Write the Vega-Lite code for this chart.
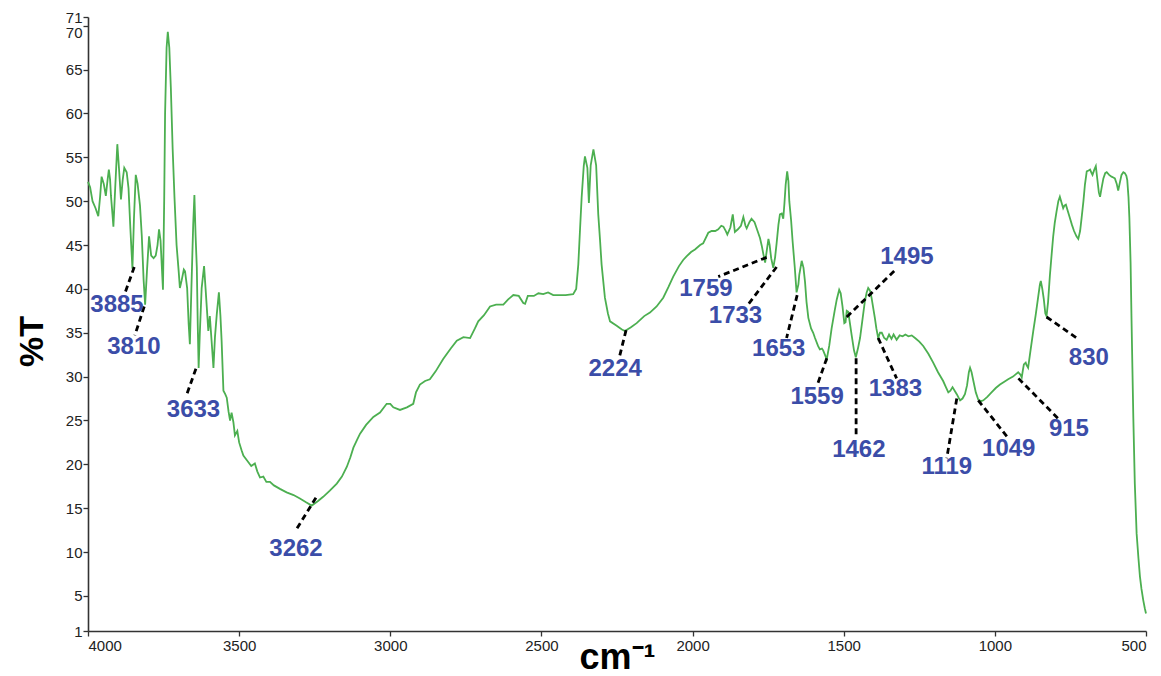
{
  "$schema": "https://vega.github.io/schema/vega-lite/v6.json",
  "autosize": "none",
  "width": 1058,
  "height": 614,
  "padding": {"left": 88, "top": 17, "right": 15, "bottom": 45},
  "background": "white",
  "config": {
    "view": {"stroke": null},
    "axis": {
      "grid": false,
      "domainColor": "#333333",
      "domainWidth": 1.6,
      "tickColor": "#333333",
      "tickWidth": 1.3,
      "tickSize": 5,
      "labelFont": "Liberation Sans",
      "labelFontSize": 15,
      "labelColor": "#222222",
      "titleFont": "Liberation Sans",
      "titleColor": "#000000",
      "titleFontWeight": "bold"
    }
  },
  "datasets": {
    "spectrum": [
      {"wn": 4000, "t": 52.2}, {"wn": 3993, "t": 51.6}, {"wn": 3985, "t": 50.0}, {"wn": 3975, "t": 49.2}, {"wn": 3966, "t": 48.3},
      {"wn": 3960, "t": 50.5}, {"wn": 3955, "t": 52.8}, {"wn": 3948, "t": 52.0}, {"wn": 3941, "t": 50.6}, {"wn": 3935, "t": 52.5},
      {"wn": 3931, "t": 53.6}, {"wn": 3927, "t": 52.5}, {"wn": 3924, "t": 50.6}, {"wn": 3919, "t": 48.5}, {"wn": 3916, "t": 47.1},
      {"wn": 3910, "t": 51.5}, {"wn": 3903, "t": 56.5}, {"wn": 3897, "t": 53.5}, {"wn": 3891, "t": 50.2}, {"wn": 3885, "t": 52.5},
      {"wn": 3880, "t": 53.8}, {"wn": 3872, "t": 53.3}, {"wn": 3866, "t": 51.5}, {"wn": 3860, "t": 47.0}, {"wn": 3853, "t": 42.3},
      {"wn": 3848, "t": 48.0}, {"wn": 3842, "t": 53.0}, {"wn": 3836, "t": 52.0}, {"wn": 3828, "t": 49.5}, {"wn": 3822, "t": 46.0},
      {"wn": 3816, "t": 41.0}, {"wn": 3811, "t": 38.2}, {"wn": 3805, "t": 42.0}, {"wn": 3798, "t": 46.0}, {"wn": 3791, "t": 43.8},
      {"wn": 3783, "t": 43.5}, {"wn": 3776, "t": 43.8}, {"wn": 3770, "t": 45.0}, {"wn": 3765, "t": 46.8}, {"wn": 3760, "t": 45.5},
      {"wn": 3755, "t": 42.0}, {"wn": 3752, "t": 39.9}, {"wn": 3748, "t": 50.0}, {"wn": 3745, "t": 60.0}, {"wn": 3740, "t": 67.5},
      {"wn": 3736, "t": 69.3}, {"wn": 3731, "t": 67.5}, {"wn": 3726, "t": 63.0}, {"wn": 3720, "t": 56.0}, {"wn": 3714, "t": 50.5},
      {"wn": 3707, "t": 45.0}, {"wn": 3700, "t": 42.0}, {"wn": 3696, "t": 40.1}, {"wn": 3690, "t": 41.0}, {"wn": 3683, "t": 42.2},
      {"wn": 3679, "t": 42.0}, {"wn": 3672, "t": 40.1}, {"wn": 3667, "t": 36.0}, {"wn": 3663, "t": 33.7}, {"wn": 3658, "t": 40.0},
      {"wn": 3652, "t": 47.3}, {"wn": 3648, "t": 50.7}, {"wn": 3644, "t": 46.0}, {"wn": 3640, "t": 42.4}, {"wn": 3637, "t": 36.0},
      {"wn": 3634, "t": 31.0}, {"wn": 3630, "t": 35.0}, {"wn": 3624, "t": 40.1}, {"wn": 3616, "t": 42.6}, {"wn": 3611, "t": 40.0},
      {"wn": 3607, "t": 37.9}, {"wn": 3602, "t": 35.2}, {"wn": 3597, "t": 36.9}, {"wn": 3591, "t": 34.0}, {"wn": 3585, "t": 31.0},
      {"wn": 3580, "t": 34.5}, {"wn": 3574, "t": 37.1}, {"wn": 3567, "t": 39.6}, {"wn": 3562, "t": 37.0}, {"wn": 3558, "t": 34.1},
      {"wn": 3552, "t": 28.4}, {"wn": 3546, "t": 28.0}, {"wn": 3541, "t": 27.6}, {"wn": 3535, "t": 26.0}, {"wn": 3530, "t": 25.0},
      {"wn": 3525, "t": 25.9}, {"wn": 3519, "t": 24.8}, {"wn": 3514, "t": 23.3}, {"wn": 3506, "t": 23.8}, {"wn": 3500, "t": 22.5},
      {"wn": 3492, "t": 21.6}, {"wn": 3486, "t": 21.0}, {"wn": 3475, "t": 20.5}, {"wn": 3460, "t": 19.8}, {"wn": 3448, "t": 20.1},
      {"wn": 3440, "t": 19.2}, {"wn": 3431, "t": 18.5}, {"wn": 3420, "t": 18.6}, {"wn": 3410, "t": 18.0}, {"wn": 3398, "t": 18.0},
      {"wn": 3385, "t": 17.6}, {"wn": 3365, "t": 17.2}, {"wn": 3343, "t": 16.8}, {"wn": 3320, "t": 16.5}, {"wn": 3299, "t": 16.1},
      {"wn": 3280, "t": 15.7}, {"wn": 3260, "t": 15.3}, {"wn": 3240, "t": 15.8}, {"wn": 3222, "t": 16.3}, {"wn": 3200, "t": 17.0},
      {"wn": 3177, "t": 17.8}, {"wn": 3160, "t": 18.6}, {"wn": 3144, "t": 19.7}, {"wn": 3132, "t": 20.8}, {"wn": 3122, "t": 21.9},
      {"wn": 3110, "t": 22.8}, {"wn": 3100, "t": 23.5}, {"wn": 3080, "t": 24.5}, {"wn": 3056, "t": 25.4}, {"wn": 3034, "t": 25.9},
      {"wn": 3012, "t": 26.9}, {"wn": 3000, "t": 26.9}, {"wn": 2990, "t": 26.5}, {"wn": 2968, "t": 26.2}, {"wn": 2945, "t": 26.5},
      {"wn": 2924, "t": 26.9}, {"wn": 2915, "t": 28.2}, {"wn": 2902, "t": 29.1}, {"wn": 2885, "t": 29.5}, {"wn": 2869, "t": 29.7},
      {"wn": 2850, "t": 30.6}, {"wn": 2825, "t": 32.0}, {"wn": 2800, "t": 33.2}, {"wn": 2780, "t": 34.1}, {"wn": 2758, "t": 34.5},
      {"wn": 2736, "t": 34.4}, {"wn": 2720, "t": 35.5}, {"wn": 2709, "t": 36.3}, {"wn": 2690, "t": 37.0}, {"wn": 2670, "t": 38.0},
      {"wn": 2650, "t": 38.2}, {"wn": 2626, "t": 38.2}, {"wn": 2610, "t": 38.8}, {"wn": 2593, "t": 39.3}, {"wn": 2575, "t": 39.2},
      {"wn": 2560, "t": 38.4}, {"wn": 2554, "t": 38.3}, {"wn": 2545, "t": 39.2}, {"wn": 2525, "t": 39.2}, {"wn": 2510, "t": 39.5},
      {"wn": 2494, "t": 39.4}, {"wn": 2478, "t": 39.6}, {"wn": 2461, "t": 39.3}, {"wn": 2440, "t": 39.3}, {"wn": 2420, "t": 39.3},
      {"wn": 2395, "t": 39.4}, {"wn": 2385, "t": 40.0}, {"wn": 2378, "t": 42.8}, {"wn": 2372, "t": 47.0}, {"wn": 2367, "t": 50.4},
      {"wn": 2360, "t": 54.0}, {"wn": 2356, "t": 55.1}, {"wn": 2348, "t": 53.8}, {"wn": 2343, "t": 49.8}, {"wn": 2337, "t": 54.1},
      {"wn": 2328, "t": 55.9}, {"wn": 2319, "t": 54.1}, {"wn": 2312, "t": 48.5}, {"wn": 2306, "t": 45.5}, {"wn": 2301, "t": 42.8},
      {"wn": 2290, "t": 39.0}, {"wn": 2280, "t": 37.2}, {"wn": 2273, "t": 36.3}, {"wn": 2251, "t": 35.8}, {"wn": 2235, "t": 35.4},
      {"wn": 2224, "t": 35.2}, {"wn": 2205, "t": 35.6}, {"wn": 2185, "t": 36.1}, {"wn": 2160, "t": 36.9}, {"wn": 2141, "t": 37.3},
      {"wn": 2119, "t": 38.0}, {"wn": 2097, "t": 39.0}, {"wn": 2080, "t": 40.2}, {"wn": 2064, "t": 41.4}, {"wn": 2045, "t": 42.6},
      {"wn": 2031, "t": 43.3}, {"wn": 2020, "t": 43.7}, {"wn": 2005, "t": 44.2}, {"wn": 1992, "t": 44.5}, {"wn": 1975, "t": 45.0},
      {"wn": 1965, "t": 45.2}, {"wn": 1948, "t": 46.4}, {"wn": 1937, "t": 46.6}, {"wn": 1925, "t": 46.6}, {"wn": 1915, "t": 46.8},
      {"wn": 1905, "t": 47.2}, {"wn": 1898, "t": 47.1}, {"wn": 1890, "t": 46.6}, {"wn": 1885, "t": 46.2}, {"wn": 1875, "t": 47.0},
      {"wn": 1867, "t": 48.5}, {"wn": 1860, "t": 46.5}, {"wn": 1850, "t": 46.8}, {"wn": 1840, "t": 47.2}, {"wn": 1832, "t": 48.2},
      {"wn": 1825, "t": 47.2}, {"wn": 1821, "t": 46.9}, {"wn": 1812, "t": 47.6}, {"wn": 1805, "t": 48.0}, {"wn": 1795, "t": 47.6},
      {"wn": 1785, "t": 46.6}, {"wn": 1777, "t": 45.8}, {"wn": 1771, "t": 44.9}, {"wn": 1766, "t": 44.0}, {"wn": 1760, "t": 43.0},
      {"wn": 1754, "t": 44.5}, {"wn": 1749, "t": 45.7}, {"wn": 1745, "t": 45.0}, {"wn": 1740, "t": 43.5}, {"wn": 1733, "t": 42.4},
      {"wn": 1727, "t": 43.6}, {"wn": 1722, "t": 45.2}, {"wn": 1716, "t": 47.3}, {"wn": 1711, "t": 48.5}, {"wn": 1705, "t": 48.6},
      {"wn": 1700, "t": 48.0}, {"wn": 1696, "t": 49.8}, {"wn": 1692, "t": 51.9}, {"wn": 1687, "t": 53.4}, {"wn": 1683, "t": 52.3},
      {"wn": 1680, "t": 50.0}, {"wn": 1674, "t": 47.8}, {"wn": 1669, "t": 45.4}, {"wn": 1662, "t": 42.5}, {"wn": 1656, "t": 39.6},
      {"wn": 1650, "t": 40.5}, {"wn": 1647, "t": 41.6}, {"wn": 1639, "t": 43.2}, {"wn": 1633, "t": 42.4}, {"wn": 1628, "t": 40.8},
      {"wn": 1623, "t": 38.5}, {"wn": 1617, "t": 36.7}, {"wn": 1608, "t": 35.5}, {"wn": 1601, "t": 35.0}, {"wn": 1595, "t": 34.4},
      {"wn": 1585, "t": 33.5}, {"wn": 1579, "t": 33.1}, {"wn": 1572, "t": 33.2}, {"wn": 1568, "t": 33.0}, {"wn": 1560, "t": 32.3},
      {"wn": 1556, "t": 32.0}, {"wn": 1548, "t": 33.5}, {"wn": 1540, "t": 35.5}, {"wn": 1530, "t": 37.5}, {"wn": 1523, "t": 38.8},
      {"wn": 1515, "t": 39.9}, {"wn": 1510, "t": 39.5}, {"wn": 1504, "t": 38.0}, {"wn": 1498, "t": 36.1}, {"wn": 1494, "t": 36.2},
      {"wn": 1490, "t": 37.5}, {"wn": 1485, "t": 37.4}, {"wn": 1480, "t": 36.2}, {"wn": 1474, "t": 34.8}, {"wn": 1466, "t": 33.0},
      {"wn": 1460, "t": 32.2}, {"wn": 1453, "t": 33.2}, {"wn": 1446, "t": 34.4}, {"wn": 1438, "t": 36.5}, {"wn": 1430, "t": 38.6},
      {"wn": 1424, "t": 39.6}, {"wn": 1419, "t": 40.1}, {"wn": 1413, "t": 39.8}, {"wn": 1408, "t": 39.0}, {"wn": 1397, "t": 36.7},
      {"wn": 1392, "t": 35.5}, {"wn": 1386, "t": 34.4}, {"wn": 1380, "t": 35.0}, {"wn": 1374, "t": 35.0}, {"wn": 1366, "t": 34.4},
      {"wn": 1358, "t": 34.2}, {"wn": 1350, "t": 34.8}, {"wn": 1342, "t": 34.3}, {"wn": 1335, "t": 34.8}, {"wn": 1325, "t": 34.2},
      {"wn": 1315, "t": 34.7}, {"wn": 1305, "t": 34.6}, {"wn": 1296, "t": 34.8}, {"wn": 1286, "t": 34.6}, {"wn": 1275, "t": 34.7},
      {"wn": 1264, "t": 34.4}, {"wn": 1250, "t": 34.0}, {"wn": 1237, "t": 33.5}, {"wn": 1220, "t": 32.6}, {"wn": 1204, "t": 31.6},
      {"wn": 1188, "t": 30.5}, {"wn": 1171, "t": 29.5}, {"wn": 1162, "t": 28.8}, {"wn": 1154, "t": 28.2}, {"wn": 1147, "t": 28.4},
      {"wn": 1140, "t": 28.8}, {"wn": 1133, "t": 28.4}, {"wn": 1126, "t": 28.0}, {"wn": 1120, "t": 27.6}, {"wn": 1115, "t": 27.3},
      {"wn": 1107, "t": 27.5}, {"wn": 1099, "t": 28.0}, {"wn": 1092, "t": 29.0}, {"wn": 1086, "t": 30.5}, {"wn": 1082, "t": 31.0},
      {"wn": 1077, "t": 30.5}, {"wn": 1071, "t": 29.5}, {"wn": 1063, "t": 28.2}, {"wn": 1055, "t": 27.4}, {"wn": 1046, "t": 27.2},
      {"wn": 1038, "t": 27.3}, {"wn": 1025, "t": 27.7}, {"wn": 1011, "t": 28.2}, {"wn": 997, "t": 28.7}, {"wn": 983, "t": 29.1},
      {"wn": 970, "t": 29.4}, {"wn": 956, "t": 29.7}, {"wn": 940, "t": 30.0}, {"wn": 923, "t": 30.5}, {"wn": 915, "t": 30.2},
      {"wn": 911, "t": 29.9}, {"wn": 907, "t": 30.8}, {"wn": 904, "t": 31.4}, {"wn": 898, "t": 31.6}, {"wn": 895, "t": 31.3},
      {"wn": 890, "t": 31.0}, {"wn": 882, "t": 33.0}, {"wn": 873, "t": 35.2}, {"wn": 865, "t": 37.0}, {"wn": 857, "t": 39.0},
      {"wn": 851, "t": 40.5}, {"wn": 848, "t": 40.9}, {"wn": 843, "t": 40.0}, {"wn": 838, "t": 38.8}, {"wn": 833, "t": 37.2},
      {"wn": 829, "t": 36.9}, {"wn": 824, "t": 38.5}, {"wn": 818, "t": 41.5}, {"wn": 812, "t": 44.0}, {"wn": 807, "t": 46.0},
      {"wn": 802, "t": 47.5}, {"wn": 796, "t": 48.8}, {"wn": 790, "t": 50.0}, {"wn": 785, "t": 50.5}, {"wn": 780, "t": 49.9},
      {"wn": 774, "t": 49.2}, {"wn": 770, "t": 49.5}, {"wn": 765, "t": 49.6}, {"wn": 758, "t": 48.8}, {"wn": 752, "t": 48.1},
      {"wn": 745, "t": 47.3}, {"wn": 738, "t": 46.6}, {"wn": 730, "t": 46.0}, {"wn": 724, "t": 45.7}, {"wn": 718, "t": 46.6},
      {"wn": 713, "t": 48.1}, {"wn": 707, "t": 50.0}, {"wn": 702, "t": 51.9}, {"wn": 696, "t": 53.4}, {"wn": 690, "t": 53.5},
      {"wn": 685, "t": 53.6}, {"wn": 680, "t": 53.2}, {"wn": 677, "t": 53.0}, {"wn": 671, "t": 53.6}, {"wn": 666, "t": 54.0},
      {"wn": 661, "t": 52.5}, {"wn": 656, "t": 51.0}, {"wn": 652, "t": 50.5}, {"wn": 647, "t": 51.5}, {"wn": 641, "t": 52.6},
      {"wn": 635, "t": 53.2}, {"wn": 630, "t": 53.3}, {"wn": 622, "t": 53.0}, {"wn": 614, "t": 52.8}, {"wn": 608, "t": 52.7},
      {"wn": 603, "t": 52.6}, {"wn": 597, "t": 52.0}, {"wn": 592, "t": 51.2}, {"wn": 586, "t": 52.2}, {"wn": 581, "t": 53.0},
      {"wn": 575, "t": 53.3}, {"wn": 570, "t": 53.2}, {"wn": 565, "t": 52.9}, {"wn": 562, "t": 52.4}, {"wn": 558, "t": 50.5},
      {"wn": 555, "t": 48.1}, {"wn": 551, "t": 43.0}, {"wn": 548, "t": 36.7}, {"wn": 545, "t": 31.0}, {"wn": 542, "t": 25.4},
      {"wn": 537, "t": 17.8}, {"wn": 531, "t": 12.1}, {"wn": 525, "t": 9.3}, {"wn": 520, "t": 7.2}, {"wn": 515, "t": 5.8},
      {"wn": 509, "t": 4.5}, {"wn": 504, "t": 3.6}, {"wn": 500, "t": 3.0}
    ],
    "leaders": [
      {"xa": 3847, "ya": 42.5, "xb": 3880, "yb": 39.3},
      {"xa": 3814, "ya": 38.0, "xb": 3845, "yb": 34.7},
      {"xa": 3643, "ya": 30.9, "xb": 3676, "yb": 27.7},
      {"xa": 3246, "ya": 16.2, "xb": 3312, "yb": 12.5},
      {"xa": 2220, "ya": 35.3, "xb": 2243, "yb": 32.1},
      {"xa": 1755, "ya": 43.6, "xb": 1915, "yb": 41.4},
      {"xa": 1722, "ya": 42.5, "xb": 1821, "yb": 38.0},
      {"xa": 1654, "ya": 39.3, "xb": 1689, "yb": 34.4},
      {"xa": 1556, "ya": 32.1, "xb": 1589, "yb": 28.9},
      {"xa": 1459, "ya": 32.1, "xb": 1459, "yb": 23.0},
      {"xa": 1490, "ya": 36.8, "xb": 1325, "yb": 42.3},
      {"xa": 1386, "ya": 34.4, "xb": 1325, "yb": 29.8},
      {"xa": 1126, "ya": 27.5, "xb": 1159, "yb": 20.7},
      {"xa": 1055, "ya": 27.3, "xb": 956, "yb": 23.0},
      {"xa": 922, "ya": 29.8, "xb": 790, "yb": 25.2},
      {"xa": 829, "ya": 36.8, "xb": 729, "yb": 34.4}
    ],
    "labels": [
      {"x": 3904, "y": 38.2, "label": "3885"},
      {"x": 3848, "y": 33.4, "label": "3810"},
      {"x": 3651, "y": 26.2, "label": "3633"},
      {"x": 3312, "y": 10.3, "label": "3262"},
      {"x": 2256, "y": 30.9, "label": "2224"},
      {"x": 1956, "y": 40.0, "label": "1759"},
      {"x": 1858, "y": 36.9, "label": "1733"},
      {"x": 1715, "y": 33.1, "label": "1653"},
      {"x": 1588, "y": 27.7, "label": "1559"},
      {"x": 1450, "y": 21.6, "label": "1462"},
      {"x": 1291, "y": 43.6, "label": "1495"},
      {"x": 1329, "y": 28.6, "label": "1383"},
      {"x": 1159, "y": 19.7, "label": "1119"},
      {"x": 954, "y": 21.7, "label": "1049"},
      {"x": 755, "y": 24.0, "label": "915"},
      {"x": 689, "y": 32.1, "label": "830"}
    ]
  },
  "layer": [
    {
      "data": {"name": "spectrum"},
      "mark": {"type": "line", "color": "#4caf50", "strokeWidth": 1.8, "interpolate": "linear"},
      "encoding": {
        "x": {
          "field": "wn", "type": "quantitative",
          "scale": {"domain": [500, 4000], "reverse": true, "nice": false, "zero": false},
          "axis": {
            "values": [4000, 3500, 3000, 2500, 2000, 1500, 1000, 500],
            "format": "d",
            "labelPadding": 2,
            "title": "cm⁻¹",
            "titleFontSize": 36,
            "titleBaseline": "alphabetic",
            "titleY": 37
          }
        },
        "y": {
          "field": "t", "type": "quantitative",
          "scale": {"domain": [1, 71], "nice": false, "zero": false},
          "axis": {
            "values": [1, 5, 10, 15, 20, 25, 30, 35, 40, 45, 50, 55, 60, 65, 70, 71],
            "labelPadding": 1,
            "labelBaseline": {"condition": {"test": "datum.value == 70", "value": "top"}, "value": "middle"},
            "title": "%T",
            "titleFontSize": 34,
            "titleAngle": -90,
            "titleBaseline": "alphabetic",
            "titleX": -46,
            "titleY": 324
          }
        }
      }
    },
    {
      "data": {"name": "leaders"},
      "mark": {"type": "rule", "color": "#000000", "strokeWidth": 2.8, "strokeDash": [6, 4]},
      "encoding": {
        "x": {"field": "xa", "type": "quantitative"},
        "y": {"field": "ya", "type": "quantitative"},
        "x2": {"field": "xb"},
        "y2": {"field": "yb"}
      }
    },
    {
      "data": {"name": "labels"},
      "mark": {"type": "text", "font": "Liberation Sans", "fontWeight": "bold", "fontSize": 24, "color": "#3b4da8", "align": "center", "baseline": "middle"},
      "encoding": {
        "x": {"field": "x", "type": "quantitative"},
        "y": {"field": "y", "type": "quantitative"},
        "text": {"field": "label"}
      }
    }
  ]
}
